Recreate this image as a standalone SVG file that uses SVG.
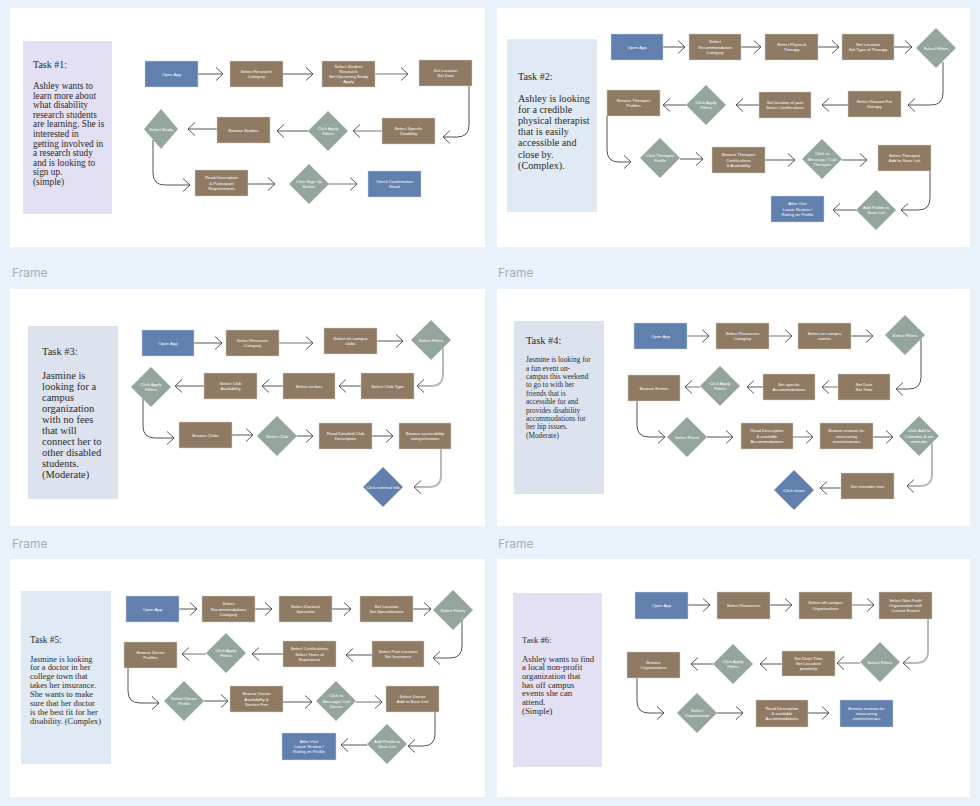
<svg xmlns="http://www.w3.org/2000/svg" width="980" height="806" viewBox="0 0 980 806">
<style>
.pn{fill:#fff}
.r{fill:#8f7a63;stroke:#d8cfc4;stroke-width:0.5}
.s{fill:#94a69c}
.b{fill:#6180ad;stroke:#c8d3e3;stroke-width:0.5}
.n{font-family:"Liberation Sans",Arial,sans-serif;font-size:4.3px;fill:#fff;text-anchor:middle}
.tk{font-family:"Liberation Serif","Times New Roman",serif;fill:#2a2a2a}
.fr{font-family:Inter,"Liberation Sans",sans-serif;font-size:12px;fill:#a3aebc}
.cd{fill:none;stroke:#555;stroke-width:1;marker-end:url(#ah)}
.cg{fill:none;stroke:#b9b9b9;stroke-width:2;marker-end:url(#ah)}
</style>
<defs>
<marker id="ah" viewBox="-1 -8 10 16" refX="7" refY="0" markerWidth="10" markerHeight="16" markerUnits="userSpaceOnUse" orient="auto">
<path d="M0,-6.5 L7,0 L0,6.5" fill="none" stroke="#555" stroke-width="1"/>
</marker>
</defs>
<rect x="0" y="0" width="980" height="806" fill="#e9f1fb"/>
<g id="frames">
<rect class="pn" x="10" y="8" width="475" height="239"/>
<rect class="pn" x="497" y="8" width="473" height="239"/>
<rect class="pn" x="10" y="289" width="475" height="237"/>
<rect class="pn" x="497" y="289" width="473" height="237"/>
<rect class="pn" x="10" y="559" width="475" height="238"/>
<rect class="pn" x="497" y="559" width="473" height="238"/>
<text class="fr" x="12" y="277">Frame</text>
<text class="fr" x="498" y="277">Frame</text>
<text class="fr" x="12" y="548">Frame</text>
<text class="fr" x="498" y="548">Frame</text>
</g>

<g id="task1">
<rect x="23" y="41" width="89" height="173" fill="#e3e0f4"/>
<text class="tk" font-size="10"><tspan x="33" y="67.5">Task #1:</tspan></text>
<text class="tk" font-size="9.3">
<tspan x="33" y="89">Ashley wants to</tspan>
<tspan x="33" y="98.6">learn more about</tspan>
<tspan x="33" y="108.2">what disability</tspan>
<tspan x="33" y="117.8">research students</tspan>
<tspan x="33" y="127.4">are learning. She is</tspan>
<tspan x="33" y="137">interested in</tspan>
<tspan x="33" y="146.6">getting involved in</tspan>
<tspan x="33" y="156.2">a research study</tspan>
<tspan x="33" y="165.8">and is looking to</tspan>
<tspan x="33" y="175.4">sign up.</tspan>
<tspan x="33" y="185">(simple)</tspan>
</text>
</g>
<g id="task2">
<rect x="507" y="39" width="90" height="173" fill="#dfeaf4"/>
<text class="tk" font-size="10.2"><tspan x="518" y="80">Task #2:</tspan>
<tspan x="518" y="101.5">Ashley is looking</tspan>
<tspan x="518" y="112.7">for a credible</tspan>
<tspan x="518" y="123.9">physical therapist</tspan>
<tspan x="518" y="135.1">that is easily</tspan>
<tspan x="518" y="146.3">accessible and</tspan>
<tspan x="518" y="157.5">close by.</tspan>
<tspan x="518" y="168.7">(Complex).</tspan>
</text>
</g>
<g id="task3">
<rect x="28" y="326" width="90" height="173" fill="#dde3ee"/>
<text class="tk" font-size="10.5"><tspan x="42" y="355">Task #3:</tspan>
<tspan x="42" y="378.5">Jasmine is</tspan>
<tspan x="42" y="389.6">looking for a</tspan>
<tspan x="42" y="400.7">campus</tspan>
<tspan x="42" y="411.8">organization</tspan>
<tspan x="42" y="422.9">with no fees</tspan>
<tspan x="42" y="434">that will</tspan>
<tspan x="42" y="445.1">connect her to</tspan>
<tspan x="42" y="456.2">other disabled</tspan>
<tspan x="42" y="467.3">students.</tspan>
<tspan x="42" y="478.4">(Moderate)</tspan>
</text>
</g>
<g id="task4">
<rect x="514" y="321" width="90" height="173" fill="#dde3ee"/>
<text class="tk" font-size="10.4"><tspan x="526" y="343.5">Task #4:</tspan></text>
<text class="tk" font-size="7.3">
<tspan x="526" y="362.2">Jasmine is looking for</tspan>
<tspan x="526" y="370.6">a fun event on-</tspan>
<tspan x="526" y="379">campus this weekend</tspan>
<tspan x="526" y="387.4">to go to with her</tspan>
<tspan x="526" y="395.8">friends that is</tspan>
<tspan x="526" y="404.2">accessible for and</tspan>
<tspan x="526" y="412.6">provides disability</tspan>
<tspan x="526" y="421">accommodations for</tspan>
<tspan x="526" y="429.4">her hip issues.</tspan>
<tspan x="526" y="437.8">(Moderate)</tspan>
</text>
</g>
<g id="task5">
<rect x="21" y="591" width="90" height="173" fill="#dfeaf4"/>
<text class="tk" font-size="9.3"><tspan x="30" y="643">Task #5:</tspan></text>
<text class="tk" font-size="8.4">
<tspan x="30" y="661.5">Jasmine is looking</tspan>
<tspan x="30" y="670.4">for a doctor in her</tspan>
<tspan x="30" y="679.3">college town that</tspan>
<tspan x="30" y="688.2">takes her insurance.</tspan>
<tspan x="30" y="697.1">She wants to make</tspan>
<tspan x="30" y="706">sure that her doctor</tspan>
<tspan x="30" y="714.9">is the best fit for her</tspan>
<tspan x="30" y="723.8">disability. (Complex)</tspan>
</text>
</g>
<g id="task6">
<rect x="513" y="593" width="89" height="174" fill="#e3e0f4"/>
<text class="tk" font-size="8.7"><tspan x="522" y="643">Task #6:</tspan>
<tspan x="522" y="661.5">Ashley wants to find</tspan>
<tspan x="522" y="670.2">a local non-profit</tspan>
<tspan x="522" y="678.9">organization that</tspan>
<tspan x="522" y="687.6">has off campus</tspan>
<tspan x="522" y="696.3">events she can</tspan>
<tspan x="522" y="705">attend.</tspan>
<tspan x="522" y="713.7">(Simple)</tspan>
</text>
</g>

<g id="connectors">
<path class="cd" d="M198,74 H223"/>
<path class="cd" d="M283,74 H313"/>
<path class="cg" d="M375,74 H408"/>
<path class="cd" d="M469,86 V125 Q469,137 457,137 H443"/>
<path class="cg" d="M435,131 H353"/>
<path class="cd" d="M308,131 H277"/>
<path class="cd" d="M217,129 H188"/>
<path class="cd" d="M153,140 V173 Q153,185 165,185 H190"/>
<path class="cd" d="M248,184 H275"/>
<path class="cg" d="M329,184 H357"/>

<path class="cd" d="M663,47 H685"/>
<path class="cd" d="M741,47 H761"/>
<path class="cd" d="M818,47 H839"/>
<path class="cd" d="M894,47 H912"/>
<path class="cd" d="M943,62 V93 Q943,105 931,105 H908"/>
<path class="cd" d="M848,105 H822"/>
<path class="cd" d="M759,105 H736"/>
<path class="cd" d="M686,105 H663"/>
<path class="cd" d="M607,116 V150 Q607,162 619,162 H631"/>
<path class="cd" d="M680,159 H703"/>
<path class="cd" d="M765,160 H795"/>
<path class="cd" d="M842,160 H867"/>
<path class="cd" d="M930,171 V198 Q930,210 918,210 H901"/>
<path class="cd" d="M856,210 H833"/>

<path class="cd" d="M194,343 H222"/>
<path class="cg" d="M279,343 H313"/>
<path class="cd" d="M377,341 H403"/>
<path class="cg" d="M443,348 V374 Q443,386 431,386 H417"/>
<path class="cd" d="M361,386 H339"/>
<path class="cd" d="M283,386 H262"/>
<path class="cd" d="M204,386 H175"/>
<path class="cd" d="M143,399 V426 Q143,438 155,438 H174"/>
<path class="cd" d="M232,435 H253"/>
<path class="cd" d="M297,436 H313"/>
<path class="cd" d="M372,436 H393"/>
<path class="cg" d="M441,449 V475 Q441,487 429,487 H414"/>

<path class="cg" d="M687,336 H709"/>
<path class="cg" d="M769,336 H792"/>
<path class="cd" d="M851,336 H873"/>
<path class="cd" d="M921,339 V377 Q921,389 909,389 H896"/>
<path class="cg" d="M838,387 H822"/>
<path class="cd" d="M763,387 H747"/>
<path class="cg" d="M700,387 H685"/>
<path class="cd" d="M637,401 V425 Q637,437 649,437 H665"/>
<path class="cd" d="M707,437 H733"/>
<path class="cg" d="M793,437 H813"/>
<path class="cd" d="M873,437 H893"/>
<path class="cg" d="M932,443 V474 Q932,486 920,486 H907"/>
<path class="cd" d="M841,488 H820"/>

<path class="cd" d="M179,609 H197"/>
<path class="cd" d="M255,609 H272"/>
<path class="cd" d="M332,609 H351"/>
<path class="cd" d="M413,609 H431"/>
<path class="cd" d="M462,620 V646 Q462,658 450,658 H433"/>
<path class="cd" d="M372,655 H346"/>
<path class="cd" d="M283,654 H252"/>
<path class="cg" d="M206,654 H182"/>
<path class="cd" d="M128,668 V691 Q128,703 140,703 H159"/>
<path class="cd" d="M204,701 H228"/>
<path class="cd" d="M283,702 H312"/>
<path class="cg" d="M356,702 H382"/>
<path class="cd" d="M435,712 V734 Q435,746 423,746 H408"/>
<path class="cd" d="M367,745 H341"/>

<path class="cd" d="M688,605 H710"/>
<path class="cd" d="M770,605 H792"/>
<path class="cg" d="M852,605 H874"/>
<path class="cg" d="M928,619 V651 Q928,663 916,663 H903"/>
<path class="cg" d="M860,663 H837"/>
<path class="cd" d="M782,664 H760"/>
<path class="cd" d="M713,664 H691"/>
<path class="cd" d="M637,678 V701 Q637,713 649,713 H664"/>
<path class="cd" d="M717,713 H743"/>
<path class="cd" d="M808,713 H829"/>
</g>

<!-- Panel 1 nodes -->
<g id="p1-open"><rect class="b" x="145" y="61" width="53" height="26"/><text class="n" x="171.5" y="75.5">Open App</text></g>
<g id="p1-cat"><rect class="r" x="230" y="61" width="53" height="26"/><text class="n"><tspan x="256.5" y="72.9">Select Research</tspan><tspan x="256.5" y="78.1">Category</tspan></text></g>
<g id="p1-student"><rect class="r" x="322" y="61" width="53" height="26"/><text class="n"><tspan x="348.5" y="67.7">Select Student</tspan><tspan x="348.5" y="72.9">Research</tspan><tspan x="348.5" y="78.1">Set Upcoming Study</tspan><tspan x="348.5" y="83.3">Apply</tspan></text></g>
<g id="p1-loc"><rect class="r" x="419" y="60" width="53" height="26"/><text class="n"><tspan x="445.5" y="71.9">Set Location</tspan><tspan x="445.5" y="77.1">Set Date</tspan></text></g>
<g id="p1-disab"><rect class="r" x="382" y="118" width="53" height="26"/><text class="n"><tspan x="408.5" y="129.9">Select Specific</tspan><tspan x="408.5" y="135.1">Disability</tspan></text></g>
<g id="p1-apply"><polygon class="s" points="328,111 348,131 328,151 308,131"/><text class="n"><tspan x="328" y="129.9">Click Apply</tspan><tspan x="328" y="135.1">Filters</tspan></text></g>
<g id="p1-browse"><rect class="r" x="217" y="117" width="53" height="26"/><text class="n" x="243.5" y="131.5">Browse Studies</text></g>
<g id="p1-study"><polygon class="s" points="161,109 178,129 161,149 144,129"/><text class="n" x="161" y="130.5">Select Study</text></g>
<g id="p1-read"><rect class="r" x="195" y="170" width="53" height="26"/><text class="n"><tspan x="221.5" y="179.3">Read Description</tspan><tspan x="221.5" y="184.5">&amp; Participant</tspan><tspan x="221.5" y="189.7">Requirements</tspan></text></g>
<g id="p1-signup"><polygon class="s" points="309,164 329,184 309,204 289,184"/><text class="n"><tspan x="309" y="182.9">Click Sign Up</tspan><tspan x="309" y="188.1">Button</tspan></text></g>
<g id="p1-confirm"><rect class="b" x="368" y="171" width="53" height="26"/><text class="n"><tspan x="394.5" y="182.9">Check Confirmation</tspan><tspan x="394.5" y="188.1">Email</tspan></text></g>

<!-- Panel 2 nodes -->
<g id="p2-open"><rect class="b" x="611" y="34" width="52" height="26"/><text class="n" x="637" y="48.5">Open App</text></g>
<g id="p2-rec"><rect class="r" x="689" y="34" width="52" height="26"/><text class="n"><tspan x="715" y="43.3">Select</tspan><tspan x="715" y="48.5">Recommendation</tspan><tspan x="715" y="53.7">Category</tspan></text></g>
<g id="p2-phys"><rect class="r" x="765" y="34" width="53" height="26"/><text class="n"><tspan x="791.5" y="45.9">Select Physical</tspan><tspan x="791.5" y="51.1">Therapy</tspan></text></g>
<g id="p2-loc"><rect class="r" x="842" y="34" width="52" height="26"/><text class="n"><tspan x="868" y="45.9">Set Location</tspan><tspan x="868" y="51.1">Set Type of Therapy</tspan></text></g>
<g id="p2-filt"><polygon class="s" points="936,28 956,48 936,68 916,48"/><text class="n" x="936" y="49.5">Select Filters</text></g>
<g id="p2-reason"><rect class="r" x="848" y="91" width="53" height="26"/><text class="n"><tspan x="874.5" y="102.9">Select Reason For</tspan><tspan x="874.5" y="108.1">therapy</tspan></text></g>
<g id="p2-pain"><rect class="r" x="759" y="92" width="52" height="26"/><text class="n"><tspan x="785" y="103.9">Set location of pain</tspan><tspan x="785" y="109.1">Select Certifications</tspan></text></g>
<g id="p2-apply"><polygon class="s" points="706,85 726,105 706,125 686,105"/><text class="n"><tspan x="706" y="103.9">Click Apply</tspan><tspan x="706" y="109.1">Filters</tspan></text></g>
<g id="p2-browse"><rect class="r" x="607" y="90" width="53" height="26"/><text class="n"><tspan x="633.5" y="101.9">Browse Therapist</tspan><tspan x="633.5" y="107.1">Profiles</tspan></text></g>
<g id="p2-click"><polygon class="s" points="660,138 680,158 660,178 640,158"/><text class="n"><tspan x="660" y="156.9">Click Therapist</tspan><tspan x="660" y="162.1">Profile</tspan></text></g>
<g id="p2-cert"><rect class="r" x="712" y="147" width="53" height="26"/><text class="n"><tspan x="738.5" y="156.3">Browse Therapist</tspan><tspan x="738.5" y="161.5">Certifications</tspan><tspan x="738.5" y="166.7">&amp; Availability</tspan></text></g>
<g id="p2-msg"><polygon class="s" points="822,139 842,159 822,179 802,159"/><text class="n"><tspan x="822" y="155.3">Click to</tspan><tspan x="822" y="160.5">Message / Call</tspan><tspan x="822" y="165.7">Therapist</tspan></text></g>
<g id="p2-save"><rect class="r" x="878" y="145" width="53" height="26"/><text class="n"><tspan x="904.5" y="156.9">Select Therapist</tspan><tspan x="904.5" y="162.1">Add to Save List</tspan></text></g>
<g id="p2-addp"><polygon class="s" points="876,190 896,210 876,230 856,210"/><text class="n"><tspan x="876" y="208.9">Add Profile to</tspan><tspan x="876" y="214.1">Save List</tspan></text></g>
<g id="p2-after"><rect class="b" x="771" y="196" width="53" height="26"/><text class="n"><tspan x="797.5" y="205.3">After Visit</tspan><tspan x="797.5" y="210.5">Leave Review /</tspan><tspan x="797.5" y="215.7">Rating on Profile</tspan></text></g>

<!-- Panel 3 nodes -->
<g id="p3-open"><rect class="b" x="142" y="330" width="52" height="26"/><text class="n" x="168" y="344.5">Open App</text></g>
<g id="p3-cat"><rect class="r" x="226" y="330" width="53" height="26"/><text class="n"><tspan x="252.5" y="341.9">Select Resource</tspan><tspan x="252.5" y="347.1">Category</tspan></text></g>
<g id="p3-clubs"><rect class="r" x="324" y="328" width="53" height="26"/><text class="n"><tspan x="350.5" y="339.9">Select on-campus</tspan><tspan x="350.5" y="345.1">clubs</tspan></text></g>
<g id="p3-filt"><polygon class="s" points="431,320 451,340 431,360 411,340"/><text class="n" x="431" y="341.5">Select Filters</text></g>
<g id="p3-type"><rect class="r" x="361" y="373" width="53" height="26"/><text class="n" x="387.5" y="387.5">Select Club Type</text></g>
<g id="p3-nofee"><rect class="r" x="283" y="373" width="52" height="26"/><text class="n" x="309" y="387.5">Select no fees</text></g>
<g id="p3-avail"><rect class="r" x="204" y="373" width="53" height="26"/><text class="n"><tspan x="230.5" y="384.9">Select Club</tspan><tspan x="230.5" y="390.1">Availability</tspan></text></g>
<g id="p3-apply"><polygon class="s" points="151,367 171,387 151,407 131,387"/><text class="n"><tspan x="151" y="385.9">Click Apply</tspan><tspan x="151" y="391.1">Filters</tspan></text></g>
<g id="p3-browse"><rect class="r" x="179" y="422" width="53" height="26"/><text class="n" x="205.5" y="436.5">Browse Clubs</text></g>
<g id="p3-club"><polygon class="s" points="277,416 297,436 277,456 257,436"/><text class="n" x="277" y="437.5">Select Club</text></g>
<g id="p3-read"><rect class="r" x="319" y="423" width="53" height="26"/><text class="n"><tspan x="345.5" y="434.9">Read Detailed Club</tspan><tspan x="345.5" y="440.1">Description</tspan></text></g>
<g id="p3-rate"><rect class="r" x="399" y="423" width="52" height="26"/><text class="n"><tspan x="425" y="434.9">Browse accessibility</tspan><tspan x="425" y="440.1">ratings/reviews</tspan></text></g>
<g id="p3-ext"><polygon class="b" points="383,467 403,487 383,507 363,487"/><text class="n" x="383" y="488.5">Click external link</text></g>

<!-- Panel 4 nodes -->
<g id="p4-open"><rect class="b" x="634" y="323" width="53" height="26"/><text class="n" x="660.5" y="337.5">Open App</text></g>
<g id="p4-cat"><rect class="r" x="716" y="323" width="53" height="26"/><text class="n"><tspan x="742.5" y="334.9">Select Resources</tspan><tspan x="742.5" y="340.1">Category</tspan></text></g>
<g id="p4-events"><rect class="r" x="798" y="323" width="53" height="26"/><text class="n"><tspan x="824.5" y="334.9">Select on campus</tspan><tspan x="824.5" y="340.1">events</tspan></text></g>
<g id="p4-filt"><polygon class="s" points="905,315 925,335 905,355 885,335"/><text class="n" x="905" y="336.5">Select Filters</text></g>
<g id="p4-date"><rect class="r" x="838" y="374" width="52" height="26"/><text class="n"><tspan x="864" y="385.9">Set Date</tspan><tspan x="864" y="391.1">Set Time</tspan></text></g>
<g id="p4-acc"><rect class="r" x="763" y="374" width="52" height="26"/><text class="n"><tspan x="789" y="385.9">Set specific</tspan><tspan x="789" y="391.1">Accommodations</tspan></text></g>
<g id="p4-apply"><polygon class="s" points="720,366 740,386 720,406 700,386"/><text class="n"><tspan x="720" y="384.9">Click Apply</tspan><tspan x="720" y="390.1">Filters</tspan></text></g>
<g id="p4-browse"><rect class="r" x="628" y="375" width="52" height="26"/><text class="n" x="654" y="389.5">Browse Events</text></g>
<g id="p4-event"><polygon class="s" points="687,417 707,437 687,457 667,437"/><text class="n" x="687" y="438.5">Select Event</text></g>
<g id="p4-read"><rect class="r" x="741" y="423" width="52" height="26"/><text class="n"><tspan x="767" y="432.3">Read Description</tspan><tspan x="767" y="437.5">&amp; available</tspan><tspan x="767" y="442.7">Accommodations</tspan></text></g>
<g id="p4-rev"><rect class="r" x="820" y="423" width="53" height="26"/><text class="n"><tspan x="846.5" y="432.3">Browse reviews for</tspan><tspan x="846.5" y="437.5">reoccurring</tspan><tspan x="846.5" y="442.7">events/venues</tspan></text></g>
<g id="p4-cal"><polygon class="s" points="919,416 939,436 919,456 899,436"/><text class="n"><tspan x="919" y="432.3">Click Add to</tspan><tspan x="919" y="437.5">Calendar &amp; set</tspan><tspan x="919" y="442.7">reminder</tspan></text></g>
<g id="p4-rem"><rect class="r" x="841" y="473" width="53" height="26"/><text class="n" x="867.5" y="487.5">Set reminder time</text></g>
<g id="p4-share"><polygon class="b" points="794,470 814,490 794,510 774,490"/><text class="n" x="794" y="491.5">Click share</text></g>

<!-- Panel 5 nodes -->
<g id="p5-open"><rect class="b" x="126" y="596" width="53" height="26"/><text class="n" x="152.5" y="610.5">Open App</text></g>
<g id="p5-rec"><rect class="r" x="202" y="596" width="53" height="26"/><text class="n"><tspan x="228.5" y="605.3">Select</tspan><tspan x="228.5" y="610.5">Recommendations</tspan><tspan x="228.5" y="615.7">Category</tspan></text></g>
<g id="p5-doc"><rect class="r" x="279" y="596" width="53" height="26"/><text class="n"><tspan x="305.5" y="607.9">Select Doctors/</tspan><tspan x="305.5" y="613.1">Specialist</tspan></text></g>
<g id="p5-loc"><rect class="r" x="360" y="596" width="53" height="26"/><text class="n"><tspan x="386.5" y="607.9">Set Location</tspan><tspan x="386.5" y="613.1">Set Specialization</tspan></text></g>
<g id="p5-filt"><polygon class="s" points="453,590 473,610 453,630 433,610"/><text class="n" x="453" y="611.5">Select Filters</text></g>
<g id="p5-pain"><rect class="r" x="372" y="641" width="52" height="26"/><text class="n"><tspan x="398" y="652.9">Select Pain Location</tspan><tspan x="398" y="658.1">Set Insurance</tspan></text></g>
<g id="p5-cert"><rect class="r" x="283" y="641" width="53" height="26"/><text class="n"><tspan x="309.5" y="650.3">Select Certifications</tspan><tspan x="309.5" y="655.5">Select Years of</tspan><tspan x="309.5" y="660.7">Experience</tspan></text></g>
<g id="p5-apply"><polygon class="s" points="226,633 246,653 226,673 206,653"/><text class="n"><tspan x="226" y="651.9">Click Apply</tspan><tspan x="226" y="657.1">Filters</tspan></text></g>
<g id="p5-browse"><rect class="r" x="124" y="642" width="53" height="26"/><text class="n"><tspan x="150.5" y="653.9">Browse Doctor</tspan><tspan x="150.5" y="659.1">Profiles</tspan></text></g>
<g id="p5-prof"><polygon class="s" points="184,681 204,701 184,721 164,701"/><text class="n"><tspan x="184" y="699.9">Select Doctor</tspan><tspan x="184" y="705.1">Profile</tspan></text></g>
<g id="p5-avail"><rect class="r" x="230" y="686" width="53" height="26"/><text class="n"><tspan x="256.5" y="695.3">Browse Doctor</tspan><tspan x="256.5" y="700.5">Availability &amp;</tspan><tspan x="256.5" y="705.7">Service Fee</tspan></text></g>
<g id="p5-msg"><polygon class="s" points="336,681 356,701 336,721 316,701"/><text class="n"><tspan x="336" y="697.3">Click to</tspan><tspan x="336" y="702.5">Message/ Call</tspan><tspan x="336" y="707.7">Doctor</tspan></text></g>
<g id="p5-save"><rect class="r" x="386" y="686" width="53" height="26"/><text class="n"><tspan x="412.5" y="697.9">Select Doctor</tspan><tspan x="412.5" y="703.1">Add to Save List</tspan></text></g>
<g id="p5-addp"><polygon class="s" points="387,724 407,744 387,764 367,744"/><text class="n"><tspan x="387" y="742.9">Add Profile to</tspan><tspan x="387" y="748.1">Save List</tspan></text></g>
<g id="p5-after"><rect class="b" x="282" y="733" width="54" height="27"/><text class="n"><tspan x="309" y="742.8">After Visit</tspan><tspan x="309" y="748">Leave Review /</tspan><tspan x="309" y="753.2">Rating on Profile</tspan></text></g>

<!-- Panel 6 nodes -->
<g id="p6-open"><rect class="b" x="635" y="592" width="53" height="27"/><text class="n" x="661.5" y="607">Open App</text></g>
<g id="p6-res"><rect class="r" x="717" y="592" width="53" height="27"/><text class="n" x="743.5" y="607">Select Resources</text></g>
<g id="p6-off"><rect class="r" x="799" y="592" width="53" height="27"/><text class="n"><tspan x="825.5" y="604.4">Select off-campus</tspan><tspan x="825.5" y="609.6">Organizations</tspan></text></g>
<g id="p6-np"><rect class="r" x="879" y="592" width="53" height="27"/><text class="n"><tspan x="905.5" y="601.8">Select Non-Profit</tspan><tspan x="905.5" y="607">Organization with</tspan><tspan x="905.5" y="612.2">Current Events</tspan></text></g>
<g id="p6-filt"><polygon class="s" points="880,642 900,662 880,682 860,662"/><text class="n" x="880" y="663.5">Select Filters</text></g>
<g id="p6-date"><rect class="r" x="782" y="651" width="53" height="25"/><text class="n"><tspan x="808.5" y="659.8">Set Date/ Time</tspan><tspan x="808.5" y="665">Set Location/</tspan><tspan x="808.5" y="670.2">proximity</tspan></text></g>
<g id="p6-apply"><polygon class="s" points="733,644 753,664 733,684 713,664"/><text class="n"><tspan x="733" y="662.9">Click Apply</tspan><tspan x="733" y="668.1">Filters</tspan></text></g>
<g id="p6-browse"><rect class="r" x="627" y="652" width="53" height="26"/><text class="n"><tspan x="653.5" y="663.9">Browse</tspan><tspan x="653.5" y="669.1">Organizations</tspan></text></g>
<g id="p6-org"><polygon class="s" points="697,693 717,713 697,733 677,713"/><text class="n"><tspan x="697" y="711.9">Select</tspan><tspan x="697" y="717.1">Organization</tspan></text></g>
<g id="p6-read"><rect class="r" x="756" y="700" width="52" height="27"/><text class="n"><tspan x="782" y="709.8">Read Description</tspan><tspan x="782" y="715">&amp; available</tspan><tspan x="782" y="720.2">Accommodations</tspan></text></g>
<g id="p6-rev"><rect class="b" x="840" y="700" width="53" height="27"/><text class="n"><tspan x="866.5" y="709.8">Browse reviews for</tspan><tspan x="866.5" y="715">reoccurring</tspan><tspan x="866.5" y="720.2">events/venues</tspan></text></g>
</svg>
